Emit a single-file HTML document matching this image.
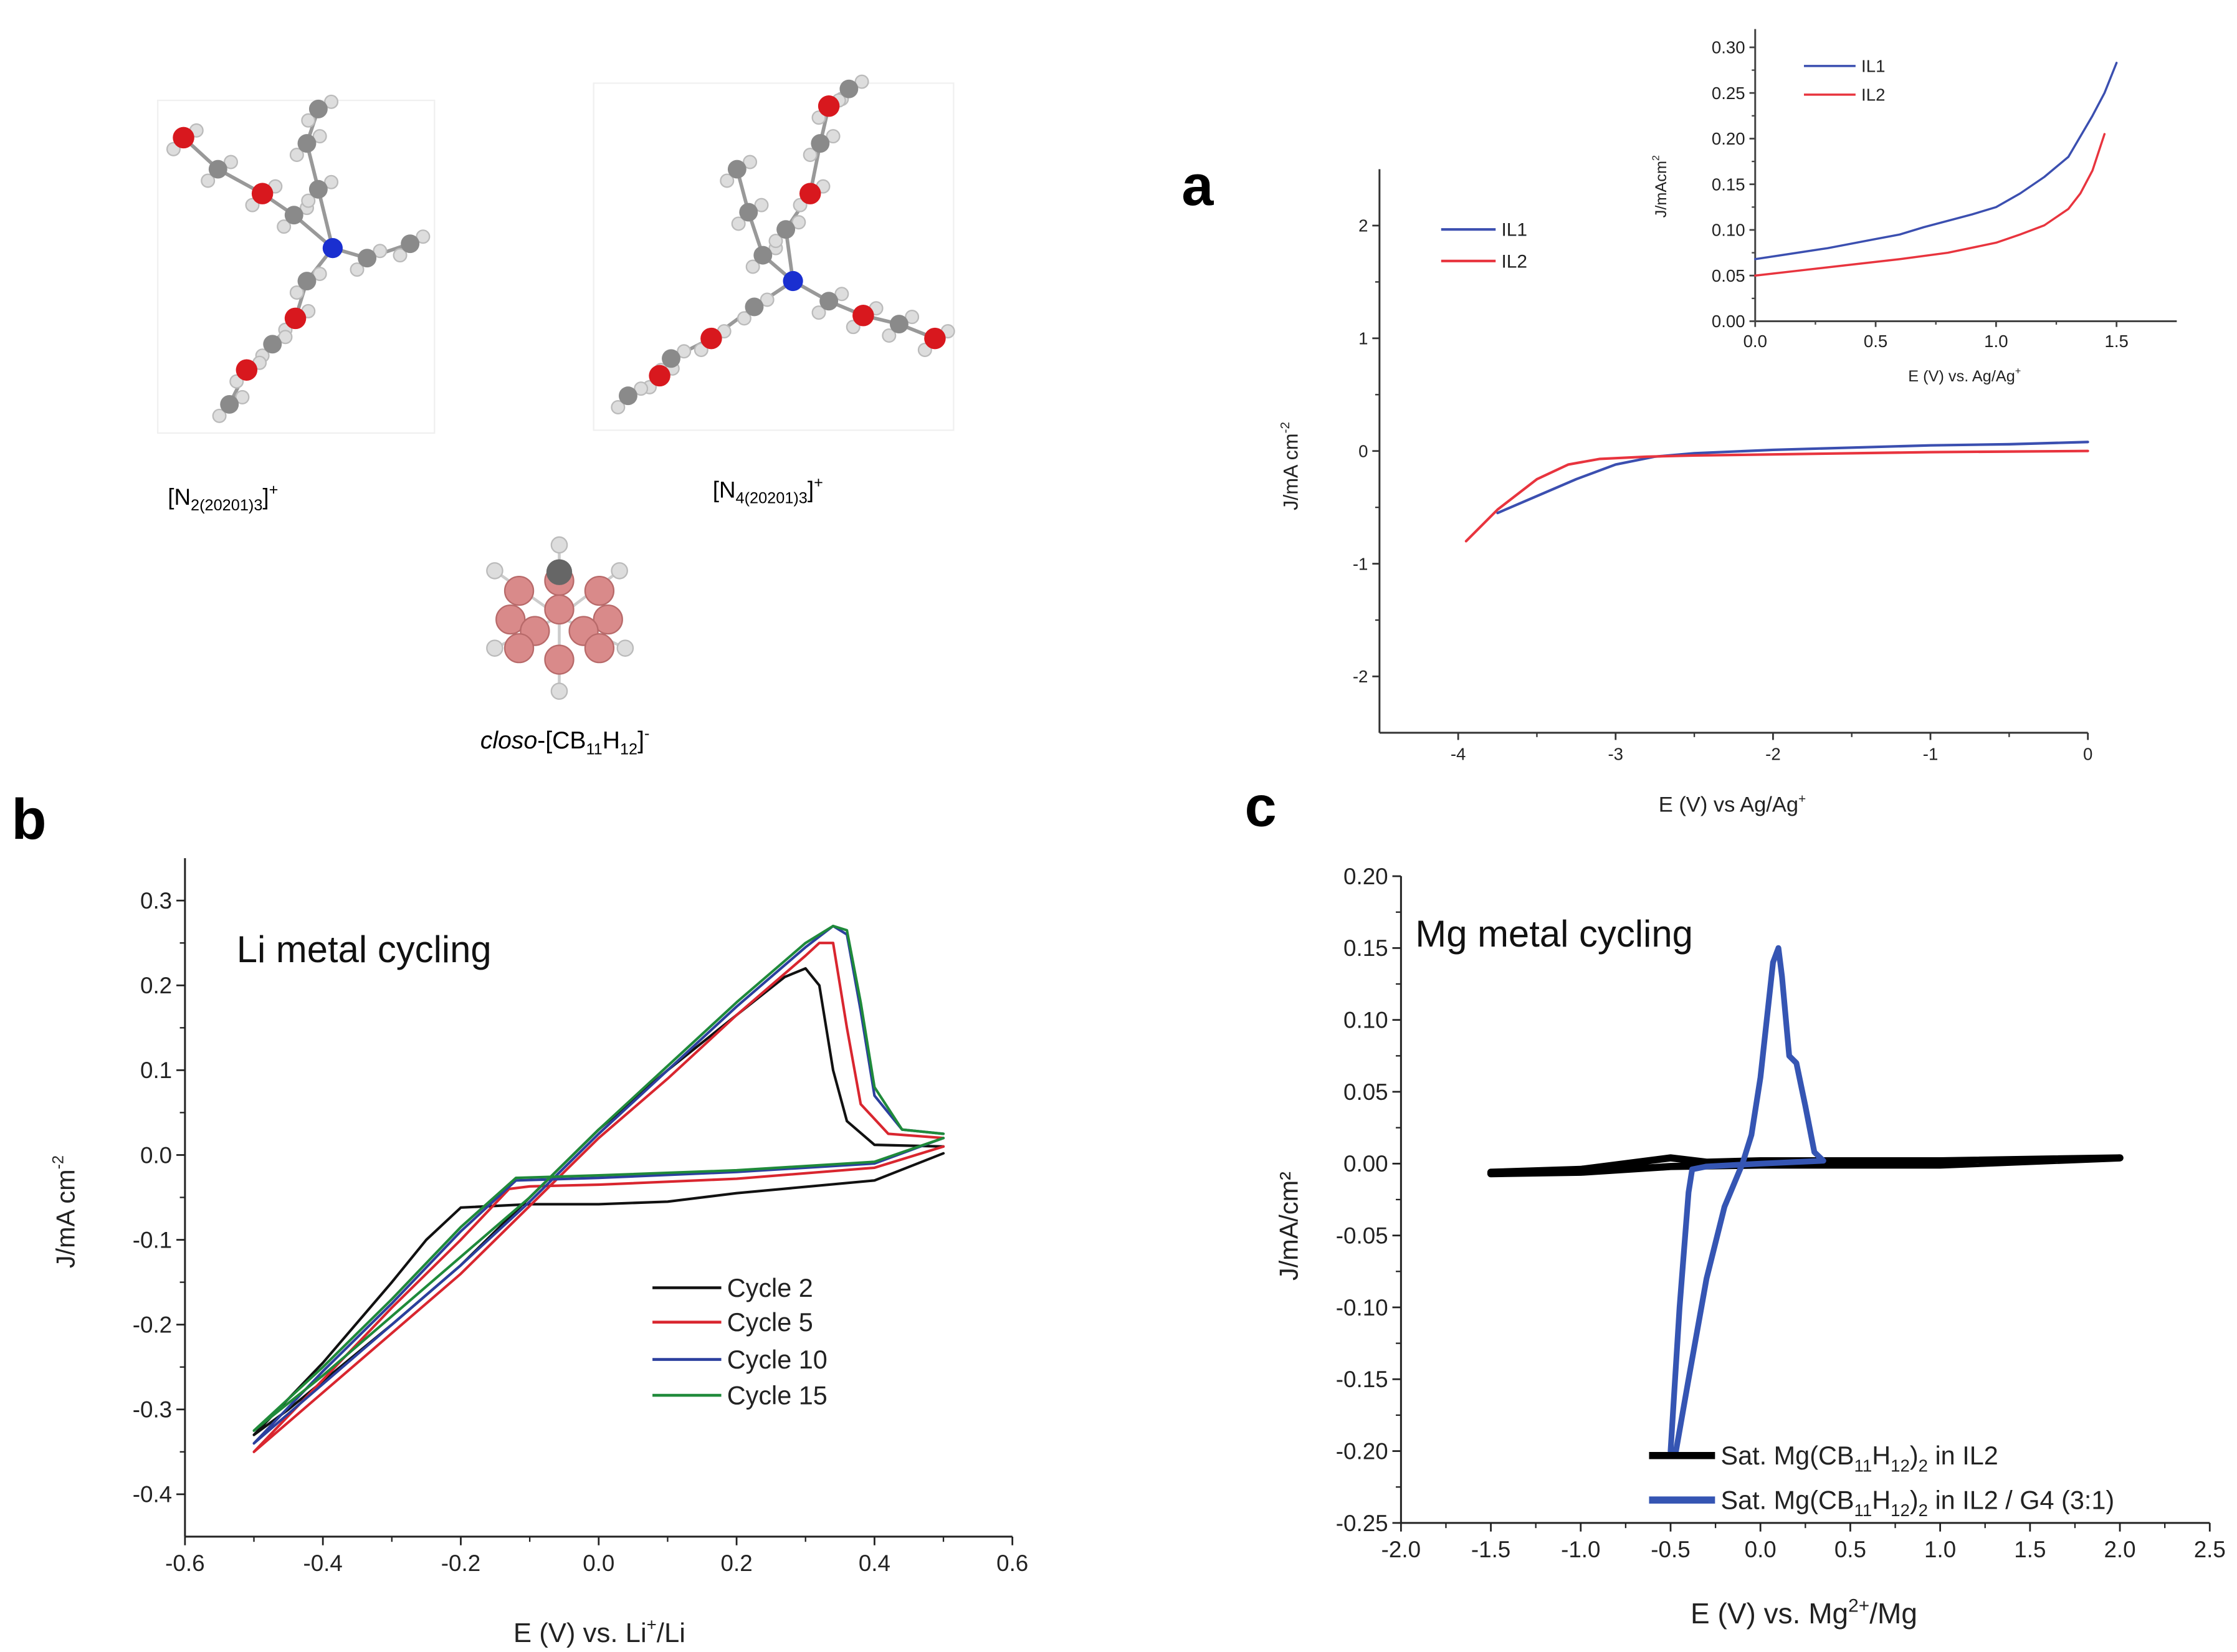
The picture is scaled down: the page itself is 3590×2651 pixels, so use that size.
<!DOCTYPE html>
<html><head><meta charset="utf-8">
<style>
html,body{margin:0;padding:0;background:#fff;}
svg{display:block;}
text{font-family:"Liberation Sans",Arial,sans-serif;}
</style></head>
<body>
<svg id="fig" width="3590" height="2651" viewBox="0 0 1560 1152" preserveAspectRatio="none" xmlns="http://www.w3.org/2000/svg">
<rect x="0" y="0" width="1560" height="1152" fill="#fff"/>
<rect x="110" y="70" width="193" height="232" fill="none" stroke="#f0f0f0"/>
<rect x="414" y="58" width="251" height="242" fill="none" stroke="#f0f0f0"/>
<g id="molecules"></g>
<text x="117" y="352" font-size="16">[N<tspan font-size="11" dy="4">2(20201)3</tspan><tspan dy="-4">]</tspan><tspan font-size="11" dy="-7">+</tspan></text>
<text x="497" y="347" font-size="16">[N<tspan font-size="11" dy="4">4(20201)3</tspan><tspan dy="-4">]</tspan><tspan font-size="11" dy="-7">+</tspan></text>
<text x="335" y="522" font-size="17"><tspan font-style="italic">closo</tspan>-[CB<tspan font-size="11" dy="4">11</tspan><tspan dy="-4">H</tspan><tspan font-size="11" dy="4">12</tspan><tspan dy="-4">]</tspan><tspan font-size="11" dy="-7">-</tspan></text>
<text x="824" y="143" font-size="40" font-weight="bold">a</text>
<text x="8" y="585" font-size="40" font-weight="bold">b</text>
<text x="868" y="576" font-size="40" font-weight="bold">c</text>
<g id="plots"></g>
</svg>
<script>
// ---------- Panel a main data ----------
const aIL1x = [-3.75,-3.5,-3.25,-3.0,-2.75,-2.5,-2.0,-1.5,-1.0,-0.5,0];
const aIL1y = [-0.55,-0.4,-0.25,-0.12,-0.05,-0.02,0.01,0.03,0.05,0.06,0.08];
const aIL2x = [-3.95,-3.75,-3.5,-3.3,-3.1,-2.8,-2.5,-2.0,-1.0,0];
const aIL2y = [-0.8,-0.52,-0.25,-0.12,-0.07,-0.05,-0.04,-0.03,-0.01,0];
const aXTicks = [-4,-3,-2,-1,0];
const aYTicks = [-2,-1,0,1,2];
// ---------- Panel a inset ----------
const inIL1x = [0,0.1,0.2,0.3,0.4,0.5,0.6,0.7,0.8,0.9,1.0,1.1,1.2,1.3,1.4,1.45,1.5];
const inIL1y = [0.068,0.072,0.076,0.08,0.085,0.09,0.095,0.103,0.11,0.117,0.125,0.14,0.158,0.18,0.225,0.25,0.283];
const inIL2x = [0,0.2,0.4,0.6,0.8,1.0,1.1,1.2,1.3,1.35,1.4,1.45];
const inIL2y = [0.05,0.056,0.062,0.068,0.075,0.086,0.095,0.105,0.123,0.14,0.165,0.205];
const inXTicks = ["0.0","0.5","1.0","1.5"];
const inYTicks = ["0.00","0.05","0.10","0.15","0.20","0.25","0.30"];
// ---------- Panel b ----------
const bC2x = [0.5,0.4,0.2,0.1,0,-0.1,-0.2,-0.25,-0.3,-0.4,-0.5,-0.45,-0.3,-0.2,-0.1,0,0.1,0.2,0.27,0.3,0.32,0.34,0.36,0.4,0.5];
const bC2y = [0.002,-0.03,-0.045,-0.055,-0.058,-0.058,-0.062,-0.1,-0.15,-0.245,-0.33,-0.3,-0.2,-0.13,-0.05,0.03,0.1,0.165,0.21,0.22,0.2,0.1,0.04,0.012,0.01];
const bC5x = [0.5,0.4,0.2,0,-0.1,-0.13,-0.2,-0.3,-0.4,-0.5,-0.4,-0.3,-0.2,-0.1,0,0.1,0.2,0.3,0.32,0.34,0.36,0.38,0.42,0.5];
const bC5y = [0.01,-0.015,-0.028,-0.035,-0.037,-0.04,-0.1,-0.18,-0.265,-0.35,-0.28,-0.21,-0.14,-0.06,0.02,0.09,0.165,0.235,0.25,0.25,0.15,0.06,0.025,0.02];
const bC10x = [0.5,0.4,0.2,0,-0.12,-0.2,-0.3,-0.4,-0.5,-0.4,-0.3,-0.2,-0.1,0,0.1,0.2,0.3,0.34,0.36,0.38,0.4,0.44,0.5];
const bC10y = [0.02,-0.01,-0.02,-0.027,-0.03,-0.09,-0.175,-0.255,-0.34,-0.27,-0.2,-0.13,-0.055,0.025,0.1,0.175,0.245,0.27,0.26,0.17,0.07,0.03,0.025];
const bC15x = [0.5,0.4,0.2,0,-0.12,-0.2,-0.3,-0.4,-0.5,-0.4,-0.3,-0.2,-0.1,0,0.1,0.2,0.3,0.34,0.36,0.38,0.4,0.44,0.5];
const bC15y = [0.02,-0.008,-0.018,-0.024,-0.027,-0.085,-0.17,-0.25,-0.325,-0.26,-0.19,-0.12,-0.05,0.03,0.105,0.18,0.25,0.27,0.265,0.18,0.08,0.03,0.025];
const bXTicks = ["-0.6","-0.4","-0.2","0.0","0.2","0.4","0.6"];
const bYTicks = ["-0.4","-0.3","-0.2","-0.1","0.0","0.1","0.2","0.3"];
// ---------- Panel c ----------
const cILx = [-1.5,-1.0,-0.5,-0.3,0,1,2,1,0,-0.5,-1,-1.5];
const cILy = [-0.006,-0.004,0.004,0.001,0.002,0.002,0.004,-0.001,-0.001,-0.002,-0.006,-0.007];
const cG4x = [0.35,0.3,0.25,0.2,0.16,0.12,0.1,0.07,0.0,-0.05,-0.1,-0.2,-0.3,-0.4,-0.47,-0.5,-0.45,-0.4,-0.38,-0.3,0,0.35];
const cG4y = [0.002,0.008,0.04,0.07,0.075,0.13,0.15,0.14,0.06,0.02,0.0,-0.03,-0.08,-0.15,-0.2,-0.2,-0.1,-0.02,-0.004,-0.002,0.0,0.002];
const cXTicks = ["-2.0","-1.5","-1.0","-0.5","0.0","0.5","1.0","1.5","2.0","2.5"];
const cYTicks = ["-0.25","-0.20","-0.15","-0.10","-0.05","0.00","0.05","0.10","0.15","0.20"];

const NS="http://www.w3.org/2000/svg";
const plots=document.getElementById('plots');
function mk(tag,attrs,parent){const e=document.createElementNS(NS,tag);for(const k in attrs)e.setAttribute(k,attrs[k]);(parent||plots).appendChild(e);return e;}
function scale(d0,d1,r0,r1){return v=>r0+(v-d0)*(r1-r0)/(d1-d0);}

function axes(g,sx,sy,x0,x1,y0,y1,xt,yt,fs,tl,minor,col){
  const X0=sx(x0),X1=sx(x1),Y0=sy(y0),Y1=sy(y1);
  let l=mk('line',{x1:X0,y1:Y0,x2:X0,y2:Y1,stroke:col,'stroke-width':1.3},g);
  
  
  l=mk('line',{x1:X0,y1:Y0,x2:X1,y2:Y0,stroke:col,'stroke-width':1.3},g);
  
  
  xt.forEach((t,i)=>{const v=parseFloat(t),X=sx(v);
    mk('line',{x1:X,y1:Y0,x2:X,y2:Y0+tl,stroke:col,'stroke-width':1.2},g);
    const tx=mk('text',{x:X,y:Y0+tl+fs+2,'font-size':fs,'text-anchor':'middle',fill:'#222'},g);
    tx.textContent=t;
    
    
    if(i<xt.length-1){const m=sx((v+parseFloat(xt[i+1]))/2);mk('line',{x1:m,y1:Y0,x2:m,y2:Y0+tl*0.6,stroke:col,'stroke-width':1},g);}
  });
  yt.forEach((t,i)=>{const v=parseFloat(t),Y=sy(v);
    mk('line',{x1:X0,y1:Y,x2:X0-tl,y2:Y,stroke:col,'stroke-width':1.2},g);
    const tx=mk('text',{x:X0-tl-3,y:Y+fs*0.35,'font-size':fs,'text-anchor':'end',fill:'#222'},g);
    tx.textContent=t;
    
    
    if(minor&&i<yt.length-1){const m=sy((v+parseFloat(yt[i+1]))/2);mk('line',{x1:X0,y1:m,x2:X0-tl*0.6,y2:m,stroke:col,'stroke-width':1},g);}
  });
}
function series(g,sx,sy,xs,ys,color,w,name){
  const d=xs.map((x,i)=>(i?'L':'M')+sx(x).toFixed(2)+' '+sy(ys[i]).toFixed(2)).join(' ');
  const p=mk('path',{d:d,fill:'none',stroke:color,'stroke-width':w,'stroke-linejoin':'round','stroke-linecap':'round'},g);
  
  
}
function label(g,x,y,fs,html,name,rot){
  const t=mk('text',{x:x,y:y,'font-size':fs,'text-anchor':'middle',fill:'#222'},g);
  if(rot)t.setAttribute('transform','rotate(-90 '+x+' '+y+')');
  t.innerHTML=html;
  
  
}
function legend(g,x,y,len,color,w,fs,html,name){
  const l=mk('line',{x1:x,y1:y,x2:x+len,y2:y,stroke:color,'stroke-width':w},g);
  
  
  const t=mk('text',{x:x+len+4,y:y+fs*0.35,'font-size':fs,fill:'#222'},g);
  t.innerHTML=html;
  
  
}

// Panel a
let ga=mk('g',{});
let sx=scale(-4.5,0,962,1456), sy=scale(-2.5,2.5,511,118);
axes(ga,sx,sy,-4.5,0,-2.5,2.5,aXTicks.map(String),aYTicks.map(String),12,5,true,'#333');
series(ga,sx,sy,aIL1x,aIL1y,'#3b4fb0',1.8,'series-il1');
series(ga,sx,sy,aIL2x,aIL2y,'#e8343e',1.8,'series-il2');
legend(ga,1005,160,38,'#3b4fb0',1.8,13,'IL1','legend-il1');
legend(ga,1005,182,38,'#e8343e',1.8,13,'IL2','legend-il2');
label(ga,905,325,14,'J/mA cm<tspan font-size="9" dy="-6">-2</tspan>','y-axis-title',true);
label(ga,1208,566,15,'E (V) vs Ag/Ag<tspan font-size="9" dy="-6">+</tspan>','x-axis-title');
// inset
let gi=mk('g',{});
sx=scale(0,1.75,1224,1518); sy=scale(0,0.3,224,33);
axes(gi,sx,sy,0,1.75,0,0.32,inXTicks,inYTicks,12,4,true,'#444');
series(gi,sx,sy,inIL1x,inIL1y,'#3b4fb0',1.5,'inset-series-il1');
series(gi,sx,sy,inIL2x,inIL2y,'#e8343e',1.5,'inset-series-il2');
legend(gi,1258,46,36,'#3b4fb0',1.5,12,'IL1','inset-legend-il1');
legend(gi,1258,66,36,'#e8343e',1.5,12,'IL2','inset-legend-il2');
label(gi,1162,130,11,'J/mAcm<tspan font-size="7" dy="-5">2</tspan>','inset-y-axis-title',true);
label(gi,1370,266,11,'E (V) vs. Ag/Ag<tspan font-size="7" dy="-5">+</tspan>','inset-x-axis-title');

// Panel b
let gb=mk('g',{});
sx=scale(-0.6,0.6,129,706); sy=scale(-0.4,0.3,1042,628);
axes(gb,sx,sy,-0.6,0.6,-0.45,0.35,bXTicks,bYTicks,16,6,true,'#222');
series(gb,sx,sy,bC2x,bC2y,'#111',1.8,'series-cycle-2');
series(gb,sx,sy,bC5x,bC5y,'#d9262f',1.8,'series-cycle-5');
series(gb,sx,sy,bC10x,bC10y,'#2b3f9e',1.8,'series-cycle-10');
series(gb,sx,sy,bC15x,bC15y,'#1f8a3a',1.8,'series-cycle-15');
legend(gb,455,898,48,'#111',2,18,'Cycle 2','legend-cycle-2');
legend(gb,455,922,48,'#d9262f',2,18,'Cycle 5','legend-cycle-5');
legend(gb,455,948,48,'#2b3f9e',2,18,'Cycle 10','legend-cycle-10');
legend(gb,455,973,48,'#1f8a3a',2,18,'Cycle 15','legend-cycle-15');
let t=mk('text',{x:165,y:671,'font-size':26,fill:'#111'},gb);t.textContent='Li metal cycling';


label(gb,52,845,18,'J/mA cm<tspan font-size="11" dy="-8">-2</tspan>','y-axis-title',true);
label(gb,418,1145,19,'E (V) vs. Li<tspan font-size="12" dy="-8">+</tspan><tspan dy="8">/Li</tspan>','x-axis-title');

// Panel c
let gc=mk('g',{});
sx=scale(-2,2.5,977,1541); sy=scale(-0.25,0.2,1062,611);
axes(gc,sx,sy,-2,2.5,-0.25,0.2,cXTicks,cYTicks,16,6,true,'#222');
series(gc,sx,sy,cILx,cILy,'#000',5,'series-il2');
series(gc,sx,sy,cG4x,cG4y,'#3555b3',4,'series-il2-g4');
legend(gc,1150,1015,46,'#000',5,18,'Sat. Mg(CB<tspan font-size="12" dy="5">11</tspan><tspan dy="-5">H</tspan><tspan font-size="12" dy="5">12</tspan><tspan dy="-5">)</tspan><tspan font-size="12" dy="5">2</tspan><tspan dy="-5"> in IL2</tspan>','legend-il2');
legend(gc,1150,1046,46,'#3555b3',5,18,'Sat. Mg(CB<tspan font-size="12" dy="5">11</tspan><tspan dy="-5">H</tspan><tspan font-size="12" dy="5">12</tspan><tspan dy="-5">)</tspan><tspan font-size="12" dy="5">2</tspan><tspan dy="-5"> in IL2 / G4 (3:1)</tspan>','legend-il2-g4');
t=mk('text',{x:987,y:660,'font-size':26,fill:'#111'},gc);t.textContent='Mg metal cycling';


label(gc,905,855,18,'J/mA/cm²','y-axis-title',true);
label(gc,1258,1132,20,'E (V) vs. Mg<tspan font-size="13" dy="-8">2+</tspan><tspan dy="8">/Mg</tspan>','x-axis-title');

// Molecules (schematic ball-and-stick)
const mol=document.getElementById('molecules');
const arms1=[[[232,173],[205,150],[183,135],[152,118],[128,96]],[[232,173],[222,132],[214,100],[222,76]],[[232,173],[214,196],[206,222],[190,240],[172,258],[160,282]],[[232,173],[256,180],[286,170]]];
const arms2=[[[553,196],[532,178],[522,148],[514,118]],[[553,196],[548,160],[565,135],[572,100],[578,74],[592,62]],[[553,196],[526,214],[496,236],[468,250],[460,262],[438,276]],[[553,196],[578,210],[602,220],[627,226],[652,236]]];
function drawMol(arms,nColor,name){
  const g=mk('g',{},mol);
  arms.forEach(a=>{mk('polyline',{points:a.map(p=>p.join(',')).join(' '),fill:'none',stroke:'#999','stroke-width':2.5},g);
    a.slice(1).forEach((p,i)=>{mk('circle',{cx:p[0]+9,cy:p[1]-5,r:4.5,fill:'#ddd',stroke:'#bbb'},g);mk('circle',{cx:p[0]-7,cy:p[1]+8,r:4.5,fill:'#ddd',stroke:'#bbb'},g);});
    a.slice(1).forEach((p,i)=>{const red=(i%2==1&&a.length>4);mk('circle',{cx:p[0],cy:p[1],r:red?7.5:6.5,fill:red?'#d8181e':'#8a8a8a'},g);});
  });
  mk('circle',{cx:arms[0][0][0],cy:arms[0][0][1],r:7,fill:nColor},g);
}
drawMol(arms1,'#1a2fd0','cation1-structure');
drawMol(arms2,'#1a2fd0','cation2-structure');
// carborane cluster
const gcb=mk('g',{},mol);
[[390,380],[345,398],[432,398],[345,452],[436,452],[390,482]].forEach(p=>{mk('line',{x1:390,y1:430,x2:p[0],y2:p[1],stroke:'#ccc','stroke-width':2},gcb);mk('circle',{cx:p[0],cy:p[1],r:5.5,fill:'#ddd',stroke:'#bbb'},gcb);});
[[362,412],[418,412],[390,405],[356,432],[424,432],[373,440],[407,440],[362,452],[418,452],[390,460],[390,425]].forEach(p=>mk('circle',{cx:p[0],cy:p[1],r:10,fill:'#d98a8a',stroke:'#b86a6a'},gcb));
mk('circle',{cx:390,cy:399,r:9,fill:'#666'},gcb);
</script>
</body></html>
